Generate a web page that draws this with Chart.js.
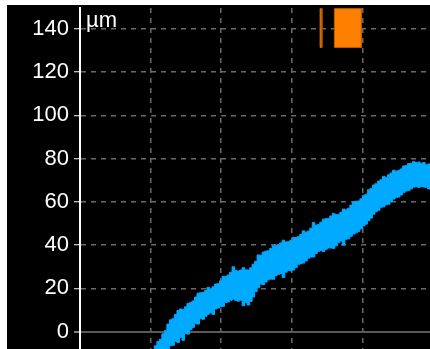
<!DOCTYPE html>
<html>
<head>
<meta charset="utf-8">
<script src="https://cdn.jsdelivr.net/npm/chart.js@4/dist/chart.umd.min.js"></script>
<style>
  html, body { margin: 0; padding: 0; background: #ffffff; }
  #panel { position: absolute; left: 7px; top: 5px; width: 423px; height: 344px; background: #000000; }
  canvas { display: block; }
</style>
</head>
<body>
<div id="panel"><canvas id="trace" width="423" height="344"></canvas></div>
<script>
// Axis ticks
const yTickValues = [0, 20, 40, 60, 80, 100, 120, 140];
const xGridTimes = [1, 2, 3, 4];
const yUnit = 'µm';

// Sampling of the displacement trace (s)
const firstSampleTime = 1.0;
const sampleInterval = 0.0355;

// Upper and lower envelope of the noisy displacement band (µm)
const bandUpper = [
  -10.5, -8.5, -6.5, -4.5, -3.5, -1, 0.5, 3.5, 5.5, 6,
  8, 9.8, 10.5, 10.2, 11.5, 13, 13.5, 14.2, 16, 17.8,
  18, 18.2, 19, 20.5, 19.8, 20.8, 22, 22.2, 23.5, 25.6,
  25.5, 26.2, 27.5, 30, 28.3, 28, 28.5, 29.6, 28.6, 28.5,
  29.5, 31.2, 32.5, 35.5, 35.3, 36.8, 37.2, 37.4, 38.5, 39.8,
  40, 40.3, 41, 42.3, 41.5, 41.6, 42.2, 43.6, 43.5, 44,
  45, 46.6, 46, 46.5, 47.8, 50.5, 49.2, 49.6, 50.6, 52,
  52.2, 52.4, 53.5, 54.7, 54.2, 54.3, 55.2, 56.7, 56.3, 57,
  58.5, 60, 60.3, 60.4, 61.4, 63, 63.5, 65.6, 66.2, 67.8,
  68.4, 69.6, 70.2, 71.8, 71.3, 72.5, 73.3, 74.6, 74.2, 74.5,
  75.2, 76.6, 76.8, 77.7, 77.8, 78.6, 78.2, 78.4, 77.8, 78.2,
  77.2, 77.5, 76.6
];
const bandLower = [
  -22, -20, -18.5, -17.5, -15, -13, -10, -8.5, -6.5, -6.3,
  -4.5, -5, -2.7, -4, -0.9, -1.1, 0.9, 2, 3.7, 3.5,
  6.1, 5.7, 7.1, 8.1, 8.7, 8, 10.5, 10.9, 11.5, 11.7,
  13.5, 13.7, 14.5, 15, 14.5, 14.1, 14.5, 12, 13.5, 12.3,
  14, 16, 18.5, 20.3, 22, 21.7, 23, 24, 24.3, 24.2,
  25.9, 26.4, 26.9, 25, 27.5, 28.3, 28.1, 28.5, 29.7, 31,
  31.5, 31.7, 32.7, 33.9, 34.5, 34.5, 36.1, 37.1, 37.5, 37,
  38.1, 38.7, 38.7, 38.5, 39.7, 41.1, 41.9, 40, 42.7, 42.9,
  44.1, 45.1, 45.7, 46.3, 47.5, 48.9, 49.7, 51.3, 52.5, 54.3,
  55.5, 56.1, 57.5, 57.7, 58.7, 58.9, 60.1, 61.3, 62, 62.2,
  63.2, 64.3, 65, 65.2, 66, 66.8, 67, 66.6, 67, 66.9,
  66.6, 66, 65.6
];

// Event markers: [start time, end time] in s, drawn over [markLow, markHigh] µm
const eventMarks = [[3.40, 3.425], [3.603, 3.986]];
const markLow = 131.4;
const markHigh = 149.3;

const yMin = -8, yMax = 149.6;
const xMin = 0, xMax = 4.957;

const sampleTimes = bandUpper.map((_, i) => firstSampleTime + i * sampleInterval);
const toPoints = (vals) => vals.map((v, i) => ({ x: sampleTimes[i], y: v }));

const markDatasets = eventMarks.map(([s, e]) => ({
  type: 'line',
  data: [
    { x: s, y: markLow }, { x: s, y: markHigh },
    { x: e, y: markHigh }, { x: e, y: markLow }, { x: s, y: markLow }
  ],
  borderColor: '#c05f00',
  borderWidth: 1,
  backgroundColor: '#ff8000',
  fill: 'shape',
  pointRadius: 0,
  tension: 0
}));

const labelFont = '"Liberation Sans Narrow", "Liberation Sans", Arial, sans-serif';

const unitLabel = {
  id: 'unitLabel',
  afterDraw(chart) {
    const { ctx, chartArea } = chart;
    ctx.save();
    ctx.fillStyle = '#ffffff';
    ctx.font = '22px ' + labelFont;
    ctx.textBaseline = 'alphabetic';
    ctx.textAlign = 'left';
    ctx.fillText(yUnit, chartArea.left + 6, chartArea.top + 19);
    ctx.restore();
  }
};

const isZero = (c) => c.tick && c.tick.value === 0;

new Chart(document.getElementById('trace'), {
  type: 'line',
  data: {
    datasets: [
      {
        data: toPoints(bandUpper),
        borderColor: '#00aaff',
        borderWidth: 1,
        pointRadius: 0,
        stepped: 'middle',
        fill: false
      },
      {
        data: toPoints(bandLower),
        borderColor: '#00aaff',
        borderWidth: 1,
        backgroundColor: '#00aaff',
        pointRadius: 0,
        stepped: 'middle',
        fill: '-1'
      },
      ...markDatasets
    ]
  },
  options: {
    responsive: false,
    animation: false,
    events: [],
    layout: { padding: { top: 3, left: 0, right: 0, bottom: 0 } },
    plugins: { legend: { display: false }, tooltip: { enabled: false } },
    scales: {
      x: {
        type: 'linear',
        min: xMin,
        max: xMax,
        afterBuildTicks(s) { s.ticks = xGridTimes.map(v => ({ value: v })); },
        afterFit(s) { s.height = 0; s.paddingLeft = 0; s.paddingRight = 0; },
        ticks: { display: false },
        grid: { color: '#6a6a6a', lineWidth: 1.5, drawTicks: false },
        border: { display: false, dash: [5, 5] }
      },
      y: {
        type: 'linear',
        min: yMin,
        max: yMax,
        afterBuildTicks(s) { s.ticks = yTickValues.map(v => ({ value: v })); },
        afterFit(s) { s.width = 73; s.paddingTop = 0; s.paddingBottom = 0; },
        ticks: {
          color: '#ffffff',
          font: { family: labelFont, size: 22 },
          padding: 5,
          autoSkip: false
        },
        grid: {
          color: (c) => isZero(c) ? '#5a5a5a' : '#6a6a6a',
          lineWidth: (c) => isZero(c) ? 2 : 1.5,
          drawTicks: true,
          tickLength: 6,
          tickColor: '#ffffff',
          tickWidth: 1,
          tickBorderDash: []
        },
        border: {
          display: true,
          color: '#ffffff',
          width: 2,
          dash: (c) => (c.tick && c.tick.value !== 0) ? [5, 5] : []
        }
      }
    }
  },
  plugins: [unitLabel]
});
</script>
</body>
</html>
